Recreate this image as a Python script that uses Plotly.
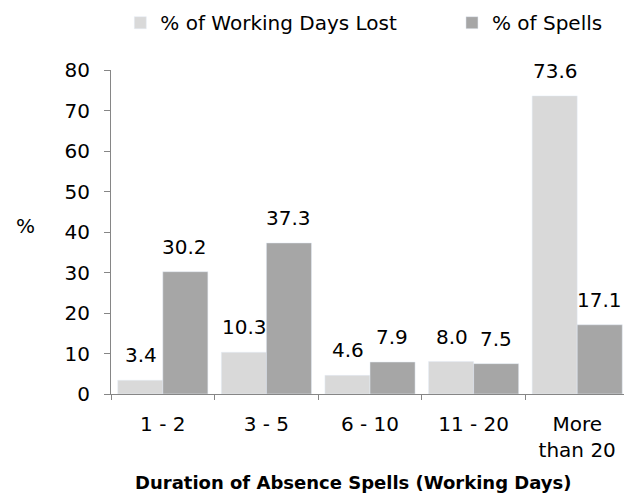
"""Absence spells by duration: grouped bar chart."""

import plotly.graph_objects as go

categories = ["1 - 2", "3 - 5", "6 - 10", "11 - 20", "More<br>than 20"]
days_lost = [3.4, 10.3, 4.6, 8.0, 73.6]
spells = [30.2, 37.3, 7.9, 7.5, 17.1]
y_ticks = [0, 10, 20, 30, 40, 50, 60, 70, 80]

FONT = "DejaVu Sans"
AXIS_GREY = "#868686"

fig = go.Figure()

fig.add_trace(
    go.Bar(
        x=categories,
        y=days_lost,
        name="% of Working Days Lost",
        marker=dict(color="#D9D9D9"),
        legend="legend",
    )
)
fig.add_trace(
    go.Bar(
        x=categories,
        y=spells,
        name="% of Spells",
        marker=dict(color="#A6A6A6"),
        legend="legend2",
    )
)

# value labels sit a bit higher than plotly's "outside" text, so use annotations
for series, shift in ((days_lost, -22), (spells, 22)):
    for cat, val in zip(categories, series):
        fig.add_annotation(
            x=cat,
            y=val,
            text=f"{val:.1f}",
            showarrow=False,
            xshift=shift,
            yshift=11,
            yanchor="bottom",
            font=dict(family=FONT, size=20, color="black"),
        )

# horizontal "%" y-axis label
fig.add_annotation(
    x=-0.166,
    y=0.518,
    xref="paper",
    yref="paper",
    xanchor="center",
    yanchor="middle",
    text="%",
    showarrow=False,
    font=dict(family=FONT, size=20, color="black"),
)

# x-axis title, sitting a little left of the plot centre like the original
fig.add_annotation(
    x=0.469,
    y=-0.272,
    xref="paper",
    yref="paper",
    xanchor="center",
    yanchor="middle",
    text="<b>Duration of Absence Spells (Working Days)</b>",
    showarrow=False,
    font=dict(family=FONT, size=18, color="black"),
)

legend_style = dict(
    orientation="h",
    y=0.97,
    xref="container",
    yref="container",
    xanchor="left",
    yanchor="middle",
    font=dict(family=FONT, size=20, color="black"),
    itemwidth=30,
)

# the page body adds an 8px margin, so the figure is 8px smaller than the window
fig.update_layout(
    width=624,
    height=489,
    barmode="group",
    bargap=0.13,
    bargroupgap=0,
    margin=dict(l=103, r=3, t=62, b=103, autoexpand=False),
    plot_bgcolor="white",
    paper_bgcolor="white",
    font=dict(family=FONT, size=20, color="black"),
    showlegend=True,
    legend=dict(x=0.18, **legend_style),
    legend2=dict(x=0.7115, **legend_style),
    xaxis=dict(
        showline=True,
        linecolor=AXIS_GREY,
        linewidth=1,
        ticks="outside",
        tickson="boundaries",
        ticklen=5,
        tickcolor=AXIS_GREY,
        ticklabelstandoff=12,
        tickangle=0,
        showgrid=False,
        automargin=False,
    ),
    yaxis=dict(
        range=[0, 80],
        tickvals=y_ticks,
        showline=True,
        linecolor=AXIS_GREY,
        linewidth=1,
        ticks="outside",
        ticklen=6,
        tickcolor=AXIS_GREY,
        ticklabelstandoff=10,
        showgrid=False,
        zeroline=False,
        automargin=False,
    ),
)

fig.write_html("out.html")
